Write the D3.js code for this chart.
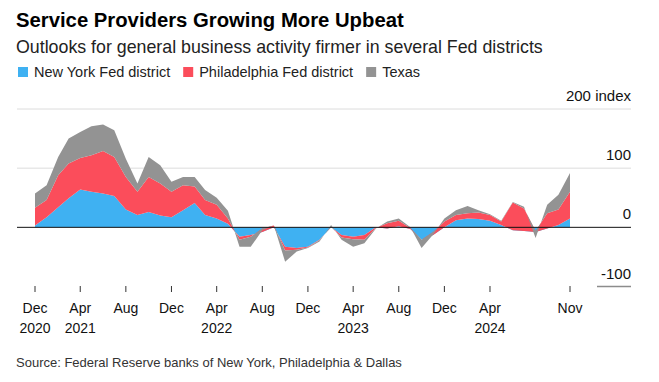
<!DOCTYPE html>
<html>
<head>
<meta charset="utf-8">
<script src="https://cdn.jsdelivr.net/npm/d3@7"></script>
<style>
  body { margin: 0; background: #fff; }
  svg { display: block; font-family: "Liberation Sans", Arial, sans-serif; }
</style>
</head>
<body>
<svg class="area-chart" width="659" height="382"></svg>
<script>
'use strict';

// monthly survey readings, Dec 2020 .. Nov 2024
const months = [
  '2020-12', '2021-01', '2021-02', '2021-03', '2021-04', '2021-05', '2021-06', '2021-07',
  '2021-08', '2021-09', '2021-10', '2021-11', '2021-12', '2022-01', '2022-02', '2022-03',
  '2022-04', '2022-05', '2022-06', '2022-07', '2022-08', '2022-09', '2022-10', '2022-11',
  '2022-12', '2023-01', '2023-02', '2023-03', '2023-04', '2023-05', '2023-06', '2023-07',
  '2023-08', '2023-09', '2023-10', '2023-11', '2023-12', '2024-01', '2024-02', '2024-03',
  '2024-04', '2024-05', '2024-06', '2024-07', '2024-08', '2024-09', '2024-10', '2024-11'
];
const newYork = [
  3, 17, 34, 49, 64, 60, 57, 53, 30, 21, 26, 20, 17, 29, 41, 21,
  15, 6, -16, -13, -8, 0, -33, -35, -33, -21, 0, -13, -16, -13, 0, -2,
  2, -3, -21, -13, 0, 12, 15, 14, 11, 4, -5, -6, -8, -2, 4, 15
];
const philadelphia = [
  30, 29, 54, 59, 53, 62, 72, 66, 55, 39, 59, 54, 43, 42, 28, 25,
  23, 9, -5, -3, 6, 3, -6, -3, -1, -1, 1, -4, -4, -8, -1, 9,
  9, 2, 0, 5, 10, 9, 9, 11, 10, 6, 47, 38, 2, 26, 26, 45
];
const texas = [
  24, 25, 31, 42, 44, 49, 45, 45, 31, 14, 34, 31, 17, 14, 16, 17,
  12, 13, -12, -17, -3, 0, -19, -3, -1, -2, 3, -4, -13, -6, -1, 3,
  4, 1, -14, -4, 5, 8, 12, 4, 1, 1, 1, 3, -12, 14, 25, 32
];

const seriesNames = ['New York Fed district', 'Philadelphia Fed district', 'Texas'];
const seriesColors = ['#3fb1f2', '#fb4d5b', '#939393'];

const yTicks = [200, 100, 0, -100];
const xTickMonths = ['2020-12', '2021-04', '2021-08', '2021-12', '2022-04', '2022-08',
  '2022-12', '2023-04', '2023-08', '2023-12', '2024-04', '2024-11'];
const xTickMonthLabels = ['Dec', 'Apr', 'Aug', 'Dec', 'Apr', 'Aug', 'Dec', 'Apr', 'Aug', 'Dec', 'Apr', 'Nov'];
const xTickYearLabels = ['2020', '2021', '', '', '2022', '', '', '2023', '', '', '2024', ''];

function render() {
  const svg = d3.select('svg.area-chart');
  const parse = d3.timeParse('%Y-%m');

  const rows = months.map((m, i) => ({
    date: parse(m),
    ny: newYork[i],
    ph: philadelphia[i],
    tx: texas[i]
  }));
  const keys = ['ny', 'ph', 'tx'];

  const x = d3.scaleTime()
    .domain([parse(months[0]), parse(months[months.length - 1])])
    .range([35, 570]);
  const y = d3.scaleLinear()
    .domain([-100, 200])
    .range([286.5, 109]);

  // titles
  svg.append('text')
    .attr('x', 16).attr('y', 27)
    .attr('font-size', 20.3).attr('font-weight', 'bold').attr('fill', '#000')
    .text('Service Providers Growing More Upbeat');
  svg.append('text')
    .attr('x', 16).attr('y', 53)
    .attr('font-size', 17.8).attr('fill', '#222')
    .text('Outlooks for general business activity firmer in several Fed districts');

  // legend
  const legend = svg.append('g').attr('transform', 'translate(18,66)');
  let lx = 0;
  seriesNames.forEach((name, i) => {
    const item = legend.append('g').attr('transform', 'translate(' + lx + ',0)');
    item.append('rect')
      .attr('width', 10).attr('height', 10)
      .attr('y', 1)
      .attr('fill', seriesColors[i]);
    const t = item.append('text')
      .attr('x', 16).attr('y', 11)
      .attr('font-size', 14.5).attr('fill', '#222')
      .text(name);
    lx += 16 + t.node().getComputedTextLength() + 13;
  });

  // gridlines
  svg.append('g')
    .selectAll('line')
    .data([200, 100])
    .enter()
    .append('line')
    .attr('x1', 17).attr('x2', 631)
    .attr('y1', (d) => y(d)).attr('y2', (d) => y(d))
    .attr('stroke', '#dcdcdc').attr('stroke-width', 1);
  svg.append('line')
    .attr('x1', 597).attr('x2', 631)
    .attr('y1', y(-100)).attr('y2', y(-100))
    .attr('stroke', '#8c8c8c').attr('stroke-width', 1.5);

  // stacked areas (plain offset, later series painted over earlier ones)
  const stacked = d3.stack().keys(keys)(rows);
  const area = d3.area()
    .x((d) => x(d.data.date))
    .y0((d) => y(d[0]))
    .y1((d) => y(d[1]));

  svg.append('g')
    .selectAll('path')
    .data(stacked)
    .enter()
    .append('path')
    .attr('d', area)
    .attr('fill', (d, i) => seriesColors[i]);

  // zero line
  svg.append('line')
    .attr('x1', 17).attr('x2', 631)
    .attr('y1', y(0)).attr('y2', y(0))
    .attr('stroke', '#111').attr('stroke-width', 1);

  // y labels, right aligned above their lines
  svg.append('g')
    .selectAll('text')
    .data(yTicks)
    .enter()
    .append('text')
    .attr('x', 631)
    .attr('y', (d) => y(d) - 8)
    .attr('text-anchor', 'end')
    .attr('font-size', 15).attr('fill', '#111')
    .text((d) => d === 200 ? '200 index' : d);

  // x axis ticks and labels
  const xg = svg.append('g')
    .selectAll('g')
    .data(xTickMonths)
    .enter()
    .append('g')
    .attr('transform', (d) => 'translate(' + x(parse(d)) + ',0)');
  xg.append('line')
    .attr('y1', 286).attr('y2', 292)
    .attr('stroke', '#333').attr('stroke-width', 1);
  xg.append('text')
    .attr('y', 313)
    .attr('text-anchor', 'middle')
    .attr('font-size', 14).attr('fill', '#111')
    .text((d, i) => xTickMonthLabels[i]);
  xg.append('text')
    .attr('y', 333)
    .attr('text-anchor', 'middle')
    .attr('font-size', 14).attr('fill', '#111')
    .text((d, i) => xTickYearLabels[i]);

  // source
  svg.append('text')
    .attr('x', 16).attr('y', 367)
    .attr('font-size', 13).attr('fill', '#333')
    .text('Source: Federal Reserve banks of New York, Philadelphia & Dallas');
}

render();
</script>
</body>
</html>
